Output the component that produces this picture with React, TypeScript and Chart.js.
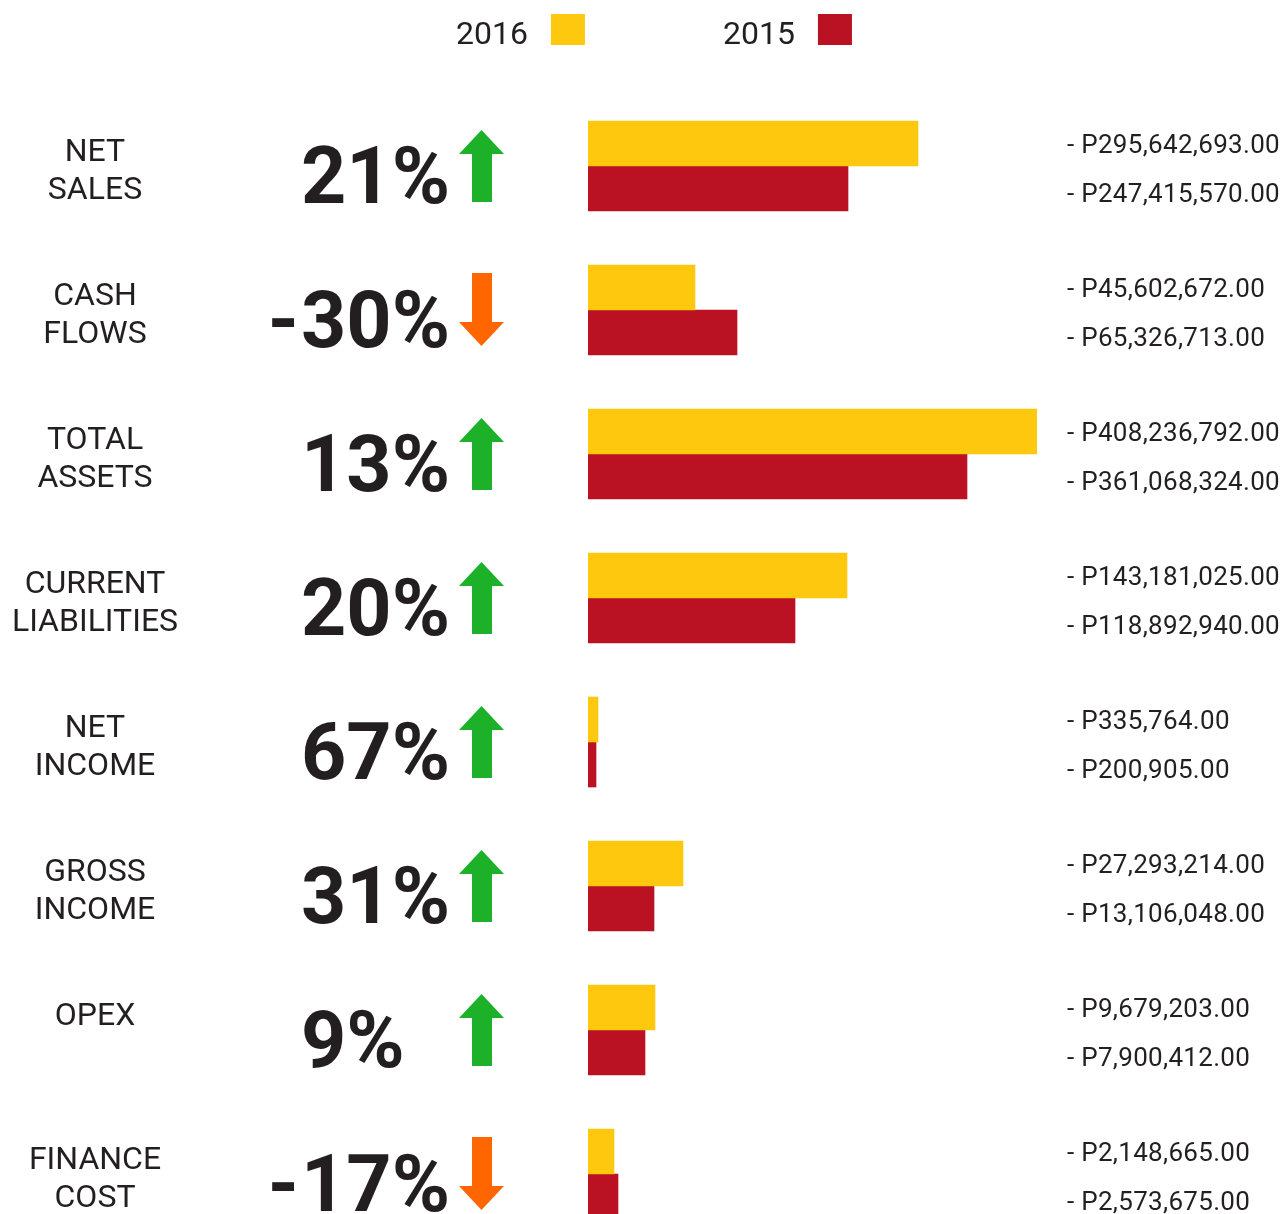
import React, { useEffect, useRef } from "react";
import { Chart, registerables } from "chart.js";

Chart.register(...registerables);

// ---- data ----
const categories: string[][] = [
  ["NET", "SALES"],
  ["CASH", "FLOWS"],
  ["TOTAL", "ASSETS"],
  ["CURRENT", "LIABILITIES"],
  ["NET", "INCOME"],
  ["GROSS", "INCOME"],
  ["OPEX"],
  ["FINANCE", "COST"],
];
const changePercent = [21, -30, 13, 20, 67, 31, 9, -17];
const amounts2016 = [295642693, 45602672, 408236792, 143181025, 335764, 27293214, 9679203, 2148665];
const amounts2015 = [247415570, 65326713, 361068324, 118892940, 200905, 13106048, 7900412, 2573675];
// bar lengths as drawn in the infographic (display units)
const barLength2016 = [330, 107, 449, 259, 10, 95, 67, 26];
const barLength2015 = [260, 149, 379, 207, 8, 66, 57, 30];
const seriesLabels = ["2016", "2015"];
const barMax = 449;

const COLOR_2016 = "#FEC80F";
const COLOR_2015 = "#BA1123";
const TEXT = "#231F20";
const GREEN = "#1CB128";
const ORANGE = "#FF6600";

const fmt = (v: number) =>
  "- P" + v.toLocaleString("en-US", { minimumFractionDigits: 2, maximumFractionDigits: 2 });

const overlayPlugin = {
  id: "overlay",
  afterDraw(chart: any) {
    const ctx = chart.ctx as CanvasRenderingContext2D;
    const ys = chart.scales.y;
    ctx.save();
    ctx.fillStyle = TEXT;
    ctx.textBaseline = "alphabetic";

    // legend
    ctx.font = "400 32px Roboto";
    ctx.textAlign = "left";
    const legendX = [456, 723];
    chart.data.datasets.forEach((ds: any, k: number) => {
      ctx.fillStyle = TEXT;
      ctx.fillText(ds.label, legendX[k], 44);
      const w = ctx.measureText(ds.label).width;
      ctx.fillStyle = ds.backgroundColor;
      ctx.fillRect(legendX[k] + w + 23, 14, 34, 31);
    });

    categories.forEach((lines, i) => {
      const c = ys.getPixelForValue(i);
      // category label
      ctx.fillStyle = TEXT;
      ctx.font = "400 32px Roboto";
      ctx.textAlign = "center";
      lines.forEach((l, k) => ctx.fillText(l, 95, c - 5 + k * 38));

      // percent
      const p = changePercent[i];
      ctx.font = "700 79px Roboto";
      ctx.textAlign = "left";
      ctx.fillText(Math.abs(p) + "%", 301, c + 37);
      if (p < 0) {
        ctx.textAlign = "right";
        ctx.fillText("-", 299, c + 37);
      }

      // arrow
      const left = 459, right = 504, sl = 472, sr = 492, mid = (left + right) / 2;
      ctx.beginPath();
      if (p >= 0) {
        ctx.fillStyle = GREEN;
        ctx.moveTo(mid, c - 36);
        ctx.lineTo(right, c - 12);
        ctx.lineTo(sr, c - 12);
        ctx.lineTo(sr, c + 36);
        ctx.lineTo(sl, c + 36);
        ctx.lineTo(sl, c - 12);
        ctx.lineTo(left, c - 12);
      } else {
        ctx.fillStyle = ORANGE;
        ctx.moveTo(mid, c + 36);
        ctx.lineTo(right, c + 12);
        ctx.lineTo(sr, c + 12);
        ctx.lineTo(sr, c - 37);
        ctx.lineTo(sl, c - 37);
        ctx.lineTo(sl, c + 12);
        ctx.lineTo(left, c + 12);
      }
      ctx.closePath();
      ctx.fill();

      // amounts
      ctx.fillStyle = TEXT;
      ctx.font = "400 26px Roboto";
      ctx.textAlign = "left";
      (ctx as any).letterSpacing = "0.3px";
      ctx.fillText(fmt(amounts2016[i]), 1067, c - 13);
      ctx.fillText(fmt(amounts2015[i]), 1067, c + 36);
      (ctx as any).letterSpacing = "0px";
    });
    ctx.restore();
  },
};

export default function App() {
  const ref = useRef<HTMLCanvasElement | null>(null);
  useEffect(() => {
    if (!ref.current) return;
    const chart = new Chart(ref.current, {
      type: "bar",
      data: {
        labels: categories.map((l) => l.join(" ")),
        datasets: [
          {
            label: seriesLabels[0],
            data: barLength2016,
            backgroundColor: COLOR_2016,
            borderWidth: 0,
            barThickness: 45,
          },
          {
            label: seriesLabels[1],
            data: barLength2015,
            backgroundColor: COLOR_2015,
            borderWidth: 0,
            barThickness: 45,
          },
        ],
      },
      options: {
        indexAxis: "y",
        responsive: false,
        animation: false,
        devicePixelRatio: 1,
        layout: { padding: { left: 588, right: 1286 - 588 - barMax, top: 94, bottom: 14 } },
        scales: {
          x: { type: "linear", min: 0, max: barMax, display: false },
          y: { type: "category", display: false, offset: true },
        },
        plugins: {
          legend: { display: false },
          tooltip: { enabled: false },
        },
      },
      plugins: [overlayPlugin],
    } as any);
    return () => chart.destroy();
  }, []);
  return (
    <div
      style={{
        position: "fixed",
        left: 0,
        top: 0,
        width: 1286,
        height: 1214,
        overflow: "hidden",
        background: "#ffffff",
      }}
    >
      <canvas ref={ref} width={1286} height={1260} style={{ display: "block", width: 1286, height: 1260 }} />
    </div>
  );
}
